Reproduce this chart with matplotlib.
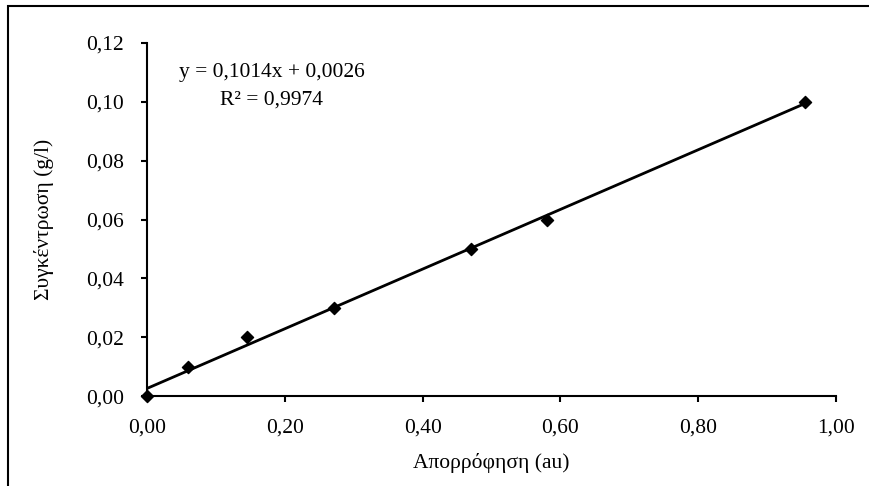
import numpy as np
import matplotlib
matplotlib.use("Agg")
from matplotlib import pyplot as plt
from matplotlib.patches import Rectangle

# Σημεία βαθμονόμησης
aporrofisi = [0.0, 0.06, 0.145, 0.272, 0.47, 0.58, 0.955]
sygkentrosi = [0.0, 0.01, 0.02, 0.03, 0.05, 0.06, 0.10]

# Γραμμή τάσης (Excel)
klisi = 0.1014
tomi = 0.0026
r2 = 0.9974

x_ticks = [0.0, 0.2, 0.4, 0.6, 0.8, 1.0]
y_ticks = [0.0, 0.02, 0.04, 0.06, 0.08, 0.10, 0.12]

plt.rcParams['font.family'] = ['Liberation Serif', 'DejaVu Serif']

fig = plt.figure(figsize=(8.69, 4.86), dpi=100)
ax = fig.add_axes([0.1692, 0.185, 0.962 - 0.1692, 0.9115 - 0.185])

# πλαίσιο γύρω από το γράφημα (δεξιά/κάτω εκτός εικόνας)
fig.patches.append(Rectangle((8 / 869, -10 / 486), 870 / 869, 490 / 486,
                             transform=fig.transFigure, fill=False,
                             edgecolor='black', linewidth=1.5,
                             clip_on=False))

xs = np.array([min(aporrofisi), max(aporrofisi)])
ax.plot(xs, klisi * xs + tomi, color='black', linewidth=2, zorder=2)
ax.scatter(aporrofisi, sygkentrosi, marker='D', s=38, color='black',
           zorder=3, clip_on=False)

ax.set_xlim(0, 1.0)
ax.set_ylim(0, 0.12)
ax.set_xticks(x_ticks)
ax.set_yticks(y_ticks)
ax.set_xticklabels([f"{v:.2f}".replace('.', ',') for v in x_ticks])
ax.set_yticklabels([f"{v:.2f}".replace('.', ',') for v in y_ticks])
ax.tick_params(axis='both', labelsize=15.5, length=4.5, width=1.5,
               direction='out')
ax.tick_params(axis='y', pad=12)
ax.tick_params(axis='x', pad=12)

for s in ['top', 'right']:
    ax.spines[s].set_visible(False)
for s in ['left', 'bottom']:
    ax.spines[s].set_linewidth(1.5)

ax.set_xlabel("Απορρόφηση (au)", fontsize=15.5, labelpad=11)
ax.set_ylabel("Συγκέντρωση (g/l)", fontsize=15.5, labelpad=23)

eq = f"y = {klisi:.4f}x + {tomi:.4f}".replace('.', ',')
ax.text(272 / 869, 1 - 72 / 486, eq, transform=fig.transFigure,
        ha='center', va='center', fontsize=15.5)
ax.text(272 / 869, 1 - 100 / 486, f"R² = {r2:.4f}".replace('.', ','),
        transform=fig.transFigure, ha='center', va='center', fontsize=15.5)

fig.savefig('out.png', dpi=100)
